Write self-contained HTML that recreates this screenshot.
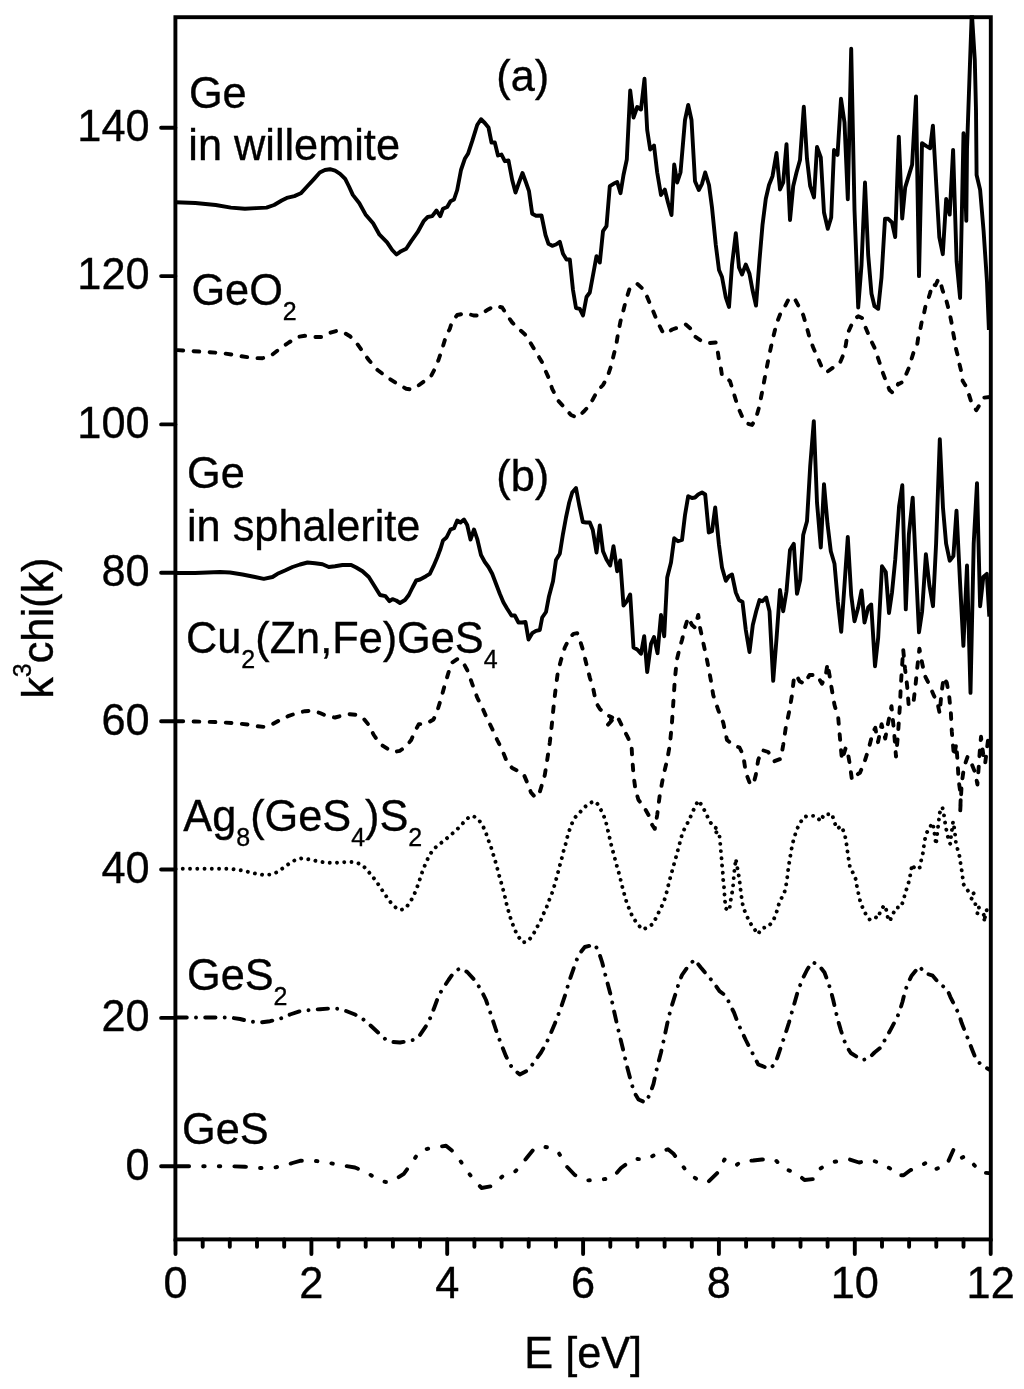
<!DOCTYPE html>
<html><head><meta charset="utf-8"><title>k3chi(k) EXAFS spectra</title>
<style>
html,body{margin:0;padding:0;background:#fff}
svg{display:block}
text{font-family:"Liberation Sans", Arial, Helvetica, sans-serif;font-size:43.3px;fill:#000;stroke:#000;stroke-width:0.35px}
.c{fill:none;stroke:#000;stroke-width:3.9;stroke-linejoin:round}
.ax{fill:none;stroke:#000;stroke-width:3.9}
</style></head><body>
<svg width="1024" height="1389" viewBox="0 0 1024 1389">
<rect width="1024" height="1389" fill="#fff"/>
<defs><clipPath id="cp"><rect x="175.4" y="15.3" width="815.4" height="1224.1"/></clipPath></defs>

<g clip-path="url(#cp)">
<polyline class="c" points="175.6,202.2 195.4,203.0 215.7,205.0 230.9,207.6 244.9,208.8 256.3,208.1 266.5,207.6 274.1,205.0 281.7,200.5 286.8,197.9 294.4,196.1 300.8,193.3 307.1,186.5 313.5,179.6 319.8,172.5 324.9,170.0 330.0,169.2 335.1,170.7 340.1,173.8 345.2,178.9 349.0,186.5 352.8,194.9 359.2,203.0 365.5,214.4 373.1,223.3 379.5,234.7 387.1,242.4 392.2,250.0 396.5,254.5 401.1,251.2 406.2,248.7 411.2,241.1 417.6,232.2 423.9,220.8 427.7,217.0 432.2,216.2 436.5,210.5 440.2,216.2 443.0,208.8 447.2,207.0 450.5,201.2 454.0,199.5 457.2,190.0 461.0,170.0 464.8,158.8 468.0,153.8 472.2,141.2 477.2,125.0 481.0,119.2 484.8,123.0 488.5,127.5 491.5,142.5 494.8,142.5 498.0,155.5 501.5,154.5 504.8,161.2 508.5,160.5 512.2,180.0 515.5,192.5 519.0,182.5 522.5,173.0 526.0,182.5 529.0,191.2 532.2,213.8 536.0,215.8 541.5,215.5 545.5,235.0 548.5,243.8 552.2,245.8 556.0,244.5 559.8,241.8 563.0,253.8 566.5,259.5 569.8,259.5 573.0,290.0 576.0,308.0 579.8,308.8 583.0,315.5 586.5,297.0 589.8,292.5 593.5,272.5 596.5,256.2 599.8,262.5 603.0,231.2 606.5,226.2 609.8,186.2 613.5,183.8 617.2,182.0 620.5,193.2 623.5,175.0 626.8,159.5 630.2,90.5 633.5,117.5 637.2,107.0 641.0,109.5 644.5,78.8 647.2,130.0 650.2,149.5 654.0,145.5 657.2,172.5 661.0,195.0 664.8,189.5 668.0,202.5 671.5,215.0 674.2,164.5 677.2,182.5 680.5,172.5 685.0,120.0 688.2,105.0 691.5,120.0 695.0,181.2 698.8,190.0 702.0,183.8 705.2,172.5 709.0,185.0 712.0,207.5 715.8,245.0 719.0,270.0 722.0,277.0 725.8,297.5 729.0,307.0 732.0,265.0 735.8,233.2 739.0,267.5 742.0,274.5 745.8,264.5 749.5,273.8 752.5,290.0 756.0,305.5 759.5,260.0 762.5,225.0 765.8,198.8 769.0,185.0 772.5,176.2 776.5,153.0 780.0,189.5 783.2,182.5 786.5,144.2 790.0,220.0 793.2,186.2 796.5,172.5 800.0,160.0 803.8,106.8 807.0,158.8 810.2,186.2 814.0,197.5 817.0,147.0 820.8,157.5 824.0,212.5 827.8,228.8 831.2,217.5 834.0,150.0 837.5,155.0 841.0,98.8 844.5,122.5 847.8,199.2 851.2,48.8 854.5,210.0 858.2,307.5 861.5,265.0 865.0,182.5 868.2,255.0 871.5,293.8 874.5,306.2 878.2,308.8 881.5,277.5 885.0,218.8 888.2,218.8 892.0,222.5 895.2,237.0 898.8,136.7 902.2,218.5 905.2,187.4 908.7,175.9 912.1,164.8 916.0,96.4 919.0,276.1 922.0,143.2 926.0,145.9 930.1,148.2 932.9,125.7 936.3,185.1 939.3,237.0 942.8,254.2 946.2,198.9 949.7,214.6 953.1,149.9 956.6,261.2 960.1,298.0 963.5,133.3 966.3,220.8 967.0,148.9 969.5,77.1 971.8,12.1 974.8,60.0 976.0,110.0 976.6,175.0 980.1,189.7 983.6,231.2 987.0,281.9 988.9,330.0"/>
<polyline class="c" stroke-linecap="round" stroke-dasharray="5.7 10.4" stroke-dashoffset="-2" points="175.5,350.0 190.0,351.0 207.5,352.0 225.0,353.5 241.2,356.2 252.5,358.0 262.5,358.2 271.2,355.5 278.8,349.5 288.8,342.5 297.5,337.0 305.0,335.8 312.5,337.0 321.2,337.0 328.8,333.2 336.2,331.0 342.5,331.8 350.0,336.2 356.2,342.5 362.0,350.5 368.8,360.0 377.5,370.0 387.5,377.5 397.5,384.0 406.2,388.8 411.2,389.5 417.5,386.2 426.0,380.0 431.0,376.2 435.5,367.5 438.5,360.0 442.2,348.8 446.0,336.2 449.8,328.8 452.2,321.2 457.2,315.0 466.0,313.2 473.5,315.5 479.8,315.5 487.2,310.0 494.8,305.8 502.2,307.5 507.2,315.5 512.2,322.5 518.0,328.2 524.8,334.2 531.0,343.8 537.8,355.0 542.2,362.5 545.2,370.0 548.5,377.5 552.2,388.8 558.0,400.5 564.0,407.0 571.0,415.0 577.2,417.5 583.5,411.8 589.8,405.0 597.2,391.2 603.0,385.0 607.2,377.5 611.0,366.2 614.0,353.8 616.0,346.2 618.0,333.8 620.5,321.2 623.5,310.0 626.0,300.0 629.8,288.0 637.2,283.8 643.5,289.5 647.2,297.0 652.2,308.8 657.2,321.2 662.2,331.2 665.5,333.8 672.2,329.5 682.0,326.2 685.8,324.5 690.8,328.8 694.5,336.2 700.8,340.5 708.2,343.2 715.8,342.5 717.5,350.0 719.0,360.0 720.8,367.5 722.0,375.5 725.8,377.0 730.0,381.2 732.8,390.0 735.8,400.0 738.2,407.5 742.0,416.2 745.0,421.2 748.2,423.8 752.0,425.0 755.8,418.8 759.0,407.5 762.0,392.5 765.8,372.5 769.0,356.2 772.5,340.0 776.5,323.8 780.8,312.5 785.0,306.2 789.5,297.5 795.0,299.2 800.0,308.8 803.2,315.0 805.8,323.8 809.5,337.5 813.2,347.5 818.2,358.8 822.5,368.8 827.0,372.0 833.2,367.5 839.5,363.8 843.2,355.0 845.8,345.0 847.5,333.8 852.0,323.8 855.8,318.0 858.2,316.2 862.0,318.0 865.0,326.2 870.8,340.0 875.0,348.8 879.5,362.5 883.2,373.8 887.0,383.8 889.5,390.0 892.5,392.5 895.8,390.0 898.2,383.8 897.9,384.4 903.1,381.8 905.7,375.3 909.0,367.5 910.9,361.0 913.5,352.6 916.7,348.1 918.3,337.1 920.0,330.6 921.9,320.9 923.8,314.4 925.5,306.0 927.7,300.8 930.3,292.4 932.3,284.0 935.5,285.3 938.5,278.8 940.7,283.3 942.6,290.4 945.9,298.9 947.8,306.0 950.1,315.7 951.7,323.5 953.0,331.9 954.5,339.7 955.8,348.1 957.9,355.9 959.5,364.3 961.4,372.0 962.7,381.1 965.9,386.3 969.2,395.4 971.4,402.5 976.3,410.3 980.2,403.8 984.1,397.6 989.9,397.0"/>
<polyline class="c" points="175.5,573.0 195.0,573.0 220.0,572.0 230.0,572.5 242.5,574.5 255.0,577.0 263.8,578.8 272.5,577.0 277.5,573.8 285.0,570.5 292.5,567.0 300.0,564.5 307.5,562.5 315.0,563.2 322.5,564.2 328.8,567.0 335.0,566.2 342.5,565.0 351.2,565.0 356.2,567.5 362.5,571.2 368.8,577.0 373.8,585.0 380.0,595.0 385.5,596.2 389.5,601.2 392.5,599.2 396.2,600.5 400.0,603.0 405.0,600.0 408.8,595.0 412.5,587.5 416.2,580.5 420.0,579.5 426.0,576.2 429.8,573.8 433.5,566.2 437.2,557.5 440.5,548.8 443.0,540.5 446.5,537.5 450.5,529.5 454.0,528.2 457.2,520.5 460.5,522.5 464.0,519.5 467.2,525.0 470.5,539.5 474.0,529.5 477.2,538.8 481.0,555.0 484.8,562.0 488.5,567.0 492.2,573.8 496.0,583.8 499.8,593.8 503.5,602.5 507.2,608.8 511.5,615.5 514.8,615.5 518.5,622.5 522.2,622.5 525.5,622.0 528.5,639.5 532.2,633.2 536.0,630.8 539.8,630.0 542.2,617.5 546.0,612.0 549.0,596.2 553.0,581.2 556.0,560.0 559.8,553.8 563.0,533.8 566.0,517.5 569.2,502.5 572.2,492.5 576.0,488.0 579.2,505.0 582.8,522.0 586.0,522.5 589.8,522.5 592.8,530.0 596.5,552.5 599.8,525.5 603.0,551.2 606.5,559.5 610.2,565.5 613.5,546.2 617.2,571.2 620.2,560.5 623.5,605.5 626.8,601.2 630.2,594.5 633.5,647.5 637.2,649.5 641.0,653.8 644.2,636.2 647.2,672.0 651.0,643.8 654.0,637.0 657.5,653.2 661.0,615.0 664.2,636.2 667.2,577.5 671.0,562.5 674.2,538.2 678.0,541.2 682.0,540.0 685.0,515.0 688.2,496.2 692.0,498.0 695.0,497.5 698.2,494.5 702.0,492.5 705.2,494.5 708.8,532.5 712.0,531.2 715.2,507.5 719.0,545.0 722.0,567.5 725.8,580.8 729.0,576.2 732.0,574.5 735.8,592.5 739.0,600.0 742.5,602.0 745.8,630.0 749.5,652.0 752.8,625.0 756.2,611.2 759.5,600.0 762.5,601.2 766.2,597.5 769.5,611.2 773.2,680.8 776.5,638.8 780.0,590.0 783.2,611.2 786.5,591.2 790.0,550.0 793.8,543.8 797.0,593.8 800.2,580.0 803.2,535.0 807.0,521.2 810.2,466.2 813.8,421.2 817.0,502.5 820.8,547.5 824.0,484.2 827.5,523.8 830.8,551.2 834.5,563.8 837.8,601.2 841.2,631.8 844.5,585.0 847.8,537.0 851.2,595.0 854.5,621.2 858.2,607.5 861.5,590.5 864.5,622.5 868.2,607.5 871.2,604.5 875.0,666.2 878.2,637.5 882.0,566.2 885.8,572.0 889.0,613.0 892.0,592.5 895.2,560.0 899.1,506.0 902.3,485.2 905.8,609.4 908.9,534.2 912.7,497.7 915.8,565.5 919.0,632.3 922.1,611.5 925.9,554.1 929.4,585.4 933.0,606.2 936.1,543.6 939.8,439.2 943.0,508.1 946.1,543.6 949.7,560.7 953.4,556.1 956.5,510.6 960.1,583.3 963.4,645.9 967.0,565.5 970.5,692.9 973.7,543.6 977.0,483.1 980.1,606.2 983.3,577.0 986.8,573.9 989.3,616.7"/>
<polyline class="c" stroke-linecap="round" stroke-dasharray="5.7 10.4" stroke-dashoffset="-2" points="175.5,721.2 195.0,721.5 215.0,722.0 232.5,723.0 247.5,724.5 257.5,726.2 265.0,727.0 272.5,724.2 280.0,720.0 288.8,715.8 297.5,713.0 305.0,711.2 312.5,710.8 320.0,713.0 327.5,716.2 335.0,717.5 342.5,715.5 350.0,714.2 357.5,715.0 363.8,718.8 368.8,725.0 373.8,735.0 380.0,743.8 387.5,748.8 393.8,752.0 400.0,750.8 406.2,746.2 411.2,740.0 415.0,731.2 418.8,724.2 426.0,723.8 433.5,719.5 437.2,711.2 441.0,698.8 444.8,685.0 448.5,672.5 452.2,662.5 457.2,659.2 462.2,660.8 467.2,670.0 472.2,683.8 477.2,697.5 482.2,707.5 487.2,718.8 492.2,728.8 497.2,740.0 502.2,750.0 507.2,762.5 512.2,768.0 518.5,771.2 523.5,773.8 527.2,782.5 531.0,792.5 534.8,796.8 538.5,796.2 541.5,786.2 544.8,775.0 547.2,760.0 549.8,742.5 551.8,725.0 553.5,707.5 555.5,690.0 557.8,672.5 561.0,660.0 564.8,647.5 569.8,637.5 573.5,633.8 577.2,633.2 579.8,640.0 583.0,650.0 586.0,662.5 589.8,677.5 593.5,690.0 596.0,702.5 599.8,708.8 604.8,713.8 612.2,717.5 606.5,726.2 612.2,720.0 617.2,716.2 622.2,726.2 627.2,736.2 631.5,745.0 632.2,757.5 633.5,775.0 635.5,790.0 638.5,800.0 643.5,806.2 648.5,815.0 652.2,825.0 654.8,828.8 657.2,815.0 659.8,795.0 663.5,775.0 667.2,760.0 669.8,745.0 671.8,725.0 673.5,700.0 674.8,680.0 676.8,660.0 679.8,647.5 682.0,640.0 685.0,627.5 688.2,617.5 692.0,625.0 695.0,627.5 698.2,615.0 700.0,627.5 703.2,642.5 707.0,660.0 710.8,680.0 713.2,695.0 718.2,710.0 723.2,722.5 727.0,740.0 733.2,745.0 739.5,747.5 743.2,755.0 745.8,772.5 749.5,782.5 753.2,785.0 755.8,775.0 758.2,760.0 762.0,750.0 768.2,752.0 774.5,761.2 780.8,758.8 783.2,745.0 785.8,727.5 789.5,710.0 792.0,695.0 794.0,677.5 796.5,675.0 799.5,681.2 804.5,683.8 809.5,675.0 817.0,675.0 822.0,683.8 825.8,675.0 827.5,663.8 829.5,675.0 831.5,687.5 834.5,705.0 838.2,717.5 839.5,732.5 840.8,747.5 842.0,760.0 845.8,747.5 848.2,755.0 849.5,762.5 852.0,780.0 858.2,773.8 860.0,772.8 864.5,762.0 869.0,747.6 872.6,733.2 875.3,727.8 878.0,742.2 881.6,724.2 885.2,738.6 887.9,724.2 891.5,706.2 894.2,733.2 896.0,756.6 897.8,736.8 898.9,720.6 900.0,704.4 900.7,688.2 901.8,670.2 903.2,649.5 905.0,668.4 907.2,686.4 908.6,704.4 913.1,705.3 915.4,686.4 917.2,668.4 919.4,648.6 922.1,663.0 924.8,675.6 929.3,684.6 933.8,695.4 937.4,702.6 939.7,713.4 941.4,693.6 943.7,677.4 946.8,682.8 949.1,695.4 950.9,713.4 951.8,731.4 952.9,744.0 954.0,756.6 956.3,744.0 957.6,762.0 958.6,780.0 960.8,796.2 960.1,813.3 961.7,783.6 964.0,767.4 967.6,756.6 971.6,763.8 975.2,772.8 977.4,784.5 978.8,765.6 979.9,749.4 981.0,736.8 983.3,754.8 985.1,763.8 986.9,749.4 988.7,734.1"/>
<polyline class="c" stroke-linecap="round" stroke-dasharray="0.01 7.25" points="175.5,868.8 195.0,868.8 215.0,868.8 230.0,868.8 242.5,870.5 252.5,873.0 263.8,875.0 271.2,874.5 277.5,872.0 283.8,867.5 290.0,863.0 296.2,859.5 302.5,858.2 310.0,859.5 317.5,861.2 325.0,862.5 332.5,863.0 340.0,862.5 347.5,862.0 355.0,862.0 361.2,864.5 366.2,868.8 371.2,875.0 376.2,881.2 381.2,888.8 386.2,896.2 391.2,903.2 396.2,908.0 400.0,910.0 405.0,908.8 410.0,902.5 413.8,895.5 417.5,886.2 420.0,878.8 422.5,871.2 426.0,862.5 429.8,854.5 434.8,848.0 441.0,843.0 447.2,838.0 453.0,833.0 458.5,828.0 463.5,822.5 468.5,817.5 473.0,815.8 478.5,819.5 483.0,826.2 486.0,833.0 488.5,840.5 491.0,847.0 493.0,853.8 495.2,860.8 497.2,868.0 499.0,875.0 501.0,882.0 503.0,889.2 504.8,896.2 506.5,903.8 508.5,911.2 510.5,918.0 513.0,925.0 515.5,931.2 519.0,937.5 523.0,942.5 528.0,941.2 533.0,935.0 536.5,928.0 540.5,921.2 543.5,913.8 546.5,907.5 549.0,900.5 551.8,893.8 554.0,887.0 556.0,880.0 558.0,872.5 559.8,865.5 561.8,858.2 563.5,851.2 565.5,844.5 567.2,837.5 569.2,830.8 571.8,823.8 575.5,817.0 579.8,812.5 584.8,807.0 589.8,803.0 594.8,801.2 598.5,805.0 602.2,812.5 605.5,820.0 607.2,827.5 609.0,835.0 610.5,842.0 612.2,848.8 614.2,855.8 616.0,863.0 618.0,870.0 619.8,876.2 621.5,883.8 623.5,891.2 625.2,897.5 627.2,904.2 629.8,910.0 632.2,916.2 635.5,921.2 638.5,925.0 642.2,929.5 648.0,927.5 653.0,923.8 656.5,917.0 659.8,910.0 663.0,903.8 665.5,896.8 667.2,890.0 669.0,882.5 671.0,875.0 673.0,868.0 674.8,861.2 676.8,854.5 678.5,847.5 680.5,840.5 682.0,834.5 685.0,827.5 689.0,820.5 692.0,813.2 695.0,806.8 698.2,800.5 702.0,805.5 705.8,813.0 709.0,820.0 713.2,826.8 718.8,829.2 715.2,833.8 719.5,836.2 720.2,843.0 720.8,850.5 721.5,858.0 722.0,865.0 722.8,872.5 723.2,880.0 724.0,887.0 724.5,894.2 725.0,901.2 726.2,908.8 729.5,910.5 730.2,903.2 731.5,895.8 732.8,888.8 733.5,881.2 734.0,873.8 735.0,866.2 735.8,858.8 737.0,865.8 738.2,872.5 739.5,880.0 740.2,887.0 741.2,894.2 742.0,901.2 743.5,908.2 746.5,915.2 749.5,922.0 754.5,929.2 757.8,934.2 762.0,928.2 768.2,926.8 772.8,921.2 775.8,915.0 777.8,907.5 780.0,900.5 784.0,894.2 785.8,886.8 787.0,879.5 787.8,872.5 788.8,865.0 790.0,858.0 791.2,850.8 792.5,843.8 794.5,837.0 796.5,830.0 800.0,823.2 803.8,817.0 810.2,815.5 815.8,816.2 820.8,821.2 824.0,814.2 829.5,814.2 832.0,813.8 834.0,821.2 837.0,828.8 841.2,826.2 844.5,833.2 845.8,840.0 847.0,847.0 847.8,854.2 849.0,861.2 850.2,868.8 853.8,873.8 855.8,879.5 857.0,886.8 858.5,893.8 860.2,901.2 862.8,908.2 865.8,914.2 869.5,919.5 874.0,916.8 878.2,918.2 880.0,912.2 884.2,905.2 886.3,910.1 887.7,917.1 889.6,921.3 892.9,914.3 895.8,907.7 900.8,907.3 903.5,900.2 905.3,892.5 907.8,885.8 909.5,878.9 910.9,871.7 912.1,864.4 915.2,869.3 919.7,867.5 921.2,860.4 922.9,853.1 923.9,845.8 925.0,839.1 926.8,832.7 930.6,826.0 932.7,822.9 934.1,830.6 935.1,837.7 936.0,844.7 937.0,835.5 937.9,828.1 938.8,820.8 939.5,813.3 942.3,807.0 943.7,813.0 944.7,820.1 945.8,827.1 947.2,834.1 949.2,841.9 950.3,844.0 951.0,837.0 952.0,829.2 953.1,821.5 954.3,828.5 955.2,835.5 955.9,842.6 957.6,849.2 959.5,856.2 960.6,863.7 961.8,871.0 962.7,877.7 963.7,884.5 968.2,891.1 972.1,891.1 973.9,893.9 970.4,897.8 974.9,900.9 976.0,908.3 979.8,907.3 977.3,913.6 982.4,915.3 985.5,914.3 983.8,922.0 987.6,906.6"/>
<polyline class="c" stroke-linecap="round" stroke-dasharray="10.3 9.2 0.01 9.2" stroke-dashoffset="-1" points="175.5,1017.5 195.0,1017.5 215.0,1017.5 230.0,1017.5 240.0,1019.0 250.0,1021.5 260.0,1022.5 270.0,1021.2 280.0,1018.8 290.0,1014.5 300.0,1011.2 310.0,1010.0 320.0,1009.2 330.0,1008.5 337.5,1008.8 345.0,1010.5 355.0,1014.5 362.5,1018.8 370.0,1025.0 377.5,1032.0 385.0,1038.8 392.5,1042.0 400.0,1042.5 407.5,1041.2 415.0,1039.5 420.0,1035.0 426.0,1026.2 430.5,1017.5 434.8,1006.2 438.5,996.2 442.2,989.5 448.5,980.0 454.8,971.2 460.5,968.2 467.2,972.0 473.5,978.8 480.5,988.8 486.0,1000.0 491.5,1016.2 496.0,1030.0 501.0,1043.8 506.0,1056.2 512.2,1068.2 519.8,1074.5 528.5,1070.0 534.8,1061.2 541.0,1052.5 546.0,1043.8 549.8,1035.5 554.8,1023.8 560.5,1008.8 564.8,996.2 569.2,981.2 573.5,968.8 578.5,955.0 584.8,947.0 594.8,944.5 598.5,951.2 602.2,962.5 606.5,979.5 611.0,996.2 613.5,1008.8 617.2,1025.0 619.8,1036.2 623.5,1051.2 626.5,1064.5 630.5,1079.5 634.0,1092.0 638.5,1099.5 645.5,1102.5 649.8,1094.5 653.5,1083.8 657.2,1067.0 661.0,1052.5 664.2,1038.0 667.2,1023.8 670.5,1010.0 674.8,996.2 679.0,982.5 682.0,975.0 688.2,966.2 694.5,959.5 700.8,967.5 707.0,975.0 713.2,982.0 719.5,991.2 726.5,996.2 729.5,1003.8 734.0,1012.5 738.2,1023.8 741.5,1030.8 745.8,1040.0 750.8,1050.0 754.5,1057.0 758.2,1064.5 769.5,1068.8 775.2,1063.8 778.2,1055.0 782.0,1043.8 785.0,1035.0 789.0,1022.5 793.2,1007.5 797.5,992.5 802.0,980.0 807.0,970.0 812.0,962.0 818.2,964.5 824.5,972.5 828.2,982.5 830.8,990.8 833.2,1000.0 835.8,1011.2 837.5,1018.8 840.8,1030.0 844.0,1040.0 847.0,1047.0 850.8,1053.0 862.0,1060.0 868.2,1058.8 874.5,1052.5 880.0,1048.1 886.3,1037.6 890.5,1029.8 896.9,1017.9 899.7,1010.9 902.5,1001.7 905.3,990.5 908.1,982.7 911.6,975.7 919.4,966.3 924.7,972.9 932.7,975.7 940.5,984.8 946.8,988.4 950.3,996.8 955.9,1008.0 959.0,1014.4 961.6,1022.8 965.8,1033.4 968.6,1040.4 972.1,1049.5 976.3,1060.1 981.3,1064.7 989.7,1069.9"/>
<polyline class="c" stroke-linecap="round" stroke-dasharray="11.6 14.1 1.5 14.1 1.5 14.1" stroke-dashoffset="-2" points="175.5,1166.2 195.0,1166.2 215.0,1166.2 230.0,1166.2 245.0,1166.8 257.5,1168.0 272.0,1168.0 284.5,1165.5 292.5,1163.0 300.0,1160.8 312.5,1160.5 327.0,1162.5 339.5,1165.0 355.0,1167.5 365.8,1172.0 372.5,1176.2 379.5,1180.0 385.5,1182.0 391.2,1182.0 397.5,1178.0 403.8,1173.8 411.2,1163.8 416.2,1156.2 419.2,1151.2 430.5,1148.0 438.5,1146.8 446.0,1145.8 454.8,1153.0 463.5,1165.5 471.0,1176.2 481.5,1188.0 491.5,1186.2 503.5,1175.5 506.0,1174.5 515.5,1171.2 526.0,1158.8 534.0,1148.8 541.0,1146.2 548.5,1147.5 558.5,1152.5 567.2,1167.0 574.8,1175.0 587.2,1180.5 601.0,1179.5 612.2,1178.2 621.0,1168.0 633.5,1158.8 646.0,1159.5 658.5,1153.0 668.0,1149.2 673.5,1153.8 682.0,1165.0 687.0,1172.0 699.5,1181.2 708.2,1182.0 718.2,1172.0 724.5,1159.5 735.8,1165.5 741.5,1161.2 753.2,1160.5 762.0,1159.5 775.0,1159.5 783.2,1168.0 797.0,1173.8 804.5,1180.0 814.0,1179.0 818.2,1170.0 825.0,1165.5 834.5,1161.8 849.0,1159.2 859.0,1162.5 871.5,1160.0 878.2,1162.5 880.0,1164.0 889.8,1168.2 896.2,1175.2 903.6,1175.2 910.2,1170.3 920.1,1166.1 927.8,1161.9 936.3,1168.9 946.8,1164.7 953.4,1149.9 959.0,1159.1 964.7,1156.3 972.1,1162.6 980.5,1172.4 989.0,1173.1"/>
</g>
<rect class="ax" x="175.4" y="17.2" width="815.4" height="1222.2"/>
<path class="ax" stroke-linecap="round" d="M161.1 1166.2H175.4M161.1 1017.9H175.4M161.1 869.5H175.4M161.1 721.2H175.4M161.1 572.8H175.4M161.1 424.4H175.4M161.1 276.1H175.4M161.1 127.7H175.4M175.5 1239.4V1254.0M202.7 1239.4V1246.8M229.8 1239.4V1246.8M257.0 1239.4V1246.8M284.2 1239.4V1246.8M311.4 1239.4V1254.0M338.5 1239.4V1246.8M365.7 1239.4V1246.8M392.9 1239.4V1246.8M420.0 1239.4V1246.8M447.2 1239.4V1254.0M474.4 1239.4V1246.8M501.6 1239.4V1246.8M528.7 1239.4V1246.8M555.9 1239.4V1246.8M583.1 1239.4V1254.0M610.3 1239.4V1246.8M637.4 1239.4V1246.8M664.6 1239.4V1246.8M691.8 1239.4V1246.8M718.9 1239.4V1254.0M746.1 1239.4V1246.8M773.3 1239.4V1246.8M800.5 1239.4V1246.8M827.6 1239.4V1246.8M854.8 1239.4V1254.0M882.0 1239.4V1246.8M909.1 1239.4V1246.8M936.3 1239.4V1246.8M963.5 1239.4V1246.8M990.7 1239.4V1254.0"/>
<text transform="translate(149.6 1179.5) scale(1 1.04)" text-anchor="end">0</text>
<text transform="translate(149.6 1031.2) scale(1 1.04)" text-anchor="end">20</text>
<text transform="translate(149.6 882.8) scale(1 1.04)" text-anchor="end">40</text>
<text transform="translate(149.6 734.5) scale(1 1.04)" text-anchor="end">60</text>
<text transform="translate(149.6 586.1) scale(1 1.04)" text-anchor="end">80</text>
<text transform="translate(149.6 437.7) scale(1 1.04)" text-anchor="end">100</text>
<text transform="translate(149.6 289.4) scale(1 1.04)" text-anchor="end">120</text>
<text transform="translate(149.6 141.0) scale(1 1.04)" text-anchor="end">140</text>
<text transform="translate(175.5 1298.2) scale(1 1.04)" text-anchor="middle">0</text>
<text transform="translate(311.4 1298.2) scale(1 1.04)" text-anchor="middle">2</text>
<text transform="translate(447.2 1298.2) scale(1 1.04)" text-anchor="middle">4</text>
<text transform="translate(583.1 1298.2) scale(1 1.04)" text-anchor="middle">6</text>
<text transform="translate(718.9 1298.2) scale(1 1.04)" text-anchor="middle">8</text>
<text transform="translate(854.8 1298.2) scale(1 1.04)" text-anchor="middle">10</text>
<text transform="translate(990.7 1298.2) scale(1 1.04)" text-anchor="middle">12</text>
<text transform="translate(583.2 1368.4) scale(1 1.04)" text-anchor="middle">E [eV]</text>
<text transform="translate(53 628.2) rotate(-90) scale(1 1.04)" text-anchor="middle">k<tspan dy="-21" font-size="25">3</tspan><tspan dy="21">chi(k)</tspan></text>
<text transform="translate(188.9 108) scale(1 1.04)">Ge</text>
<text transform="translate(188.3 159.7) scale(1 1.04)">in willemite</text>
<text transform="translate(496.3 91.3) scale(1 1.04)">(a)</text>
<text transform="translate(191.4 305.3) scale(1 1.04)">GeO<tspan dy="14.6" font-size="25">2</tspan></text>
<text transform="translate(187 487.5) scale(1 1.04)">Ge</text>
<text transform="translate(187 540.8) scale(1 1.04)">in sphalerite</text>
<text transform="translate(496.3 491.3) scale(1 1.04)">(b)</text>
<text transform="translate(186 652.6) scale(1 1.04)">Cu<tspan dy="14.6" font-size="25">2</tspan><tspan dy="-14.6">(Zn,Fe)GeS</tspan><tspan dy="14.6" font-size="25">4</tspan></text>
<text transform="translate(183.3 831.2) scale(1 1.04)">Ag<tspan dy="14.6" font-size="25">8</tspan><tspan dy="-14.6">(GeS</tspan><tspan dy="14.6" font-size="25">4</tspan><tspan dy="-14.6">)S</tspan><tspan dy="14.6" font-size="25">2</tspan></text>
<text transform="translate(187 989.5) scale(1 1.04)">GeS<tspan dy="14.6" font-size="25">2</tspan></text>
<text transform="translate(182 1144) scale(1 1.04)">GeS</text>
</svg></body></html>
